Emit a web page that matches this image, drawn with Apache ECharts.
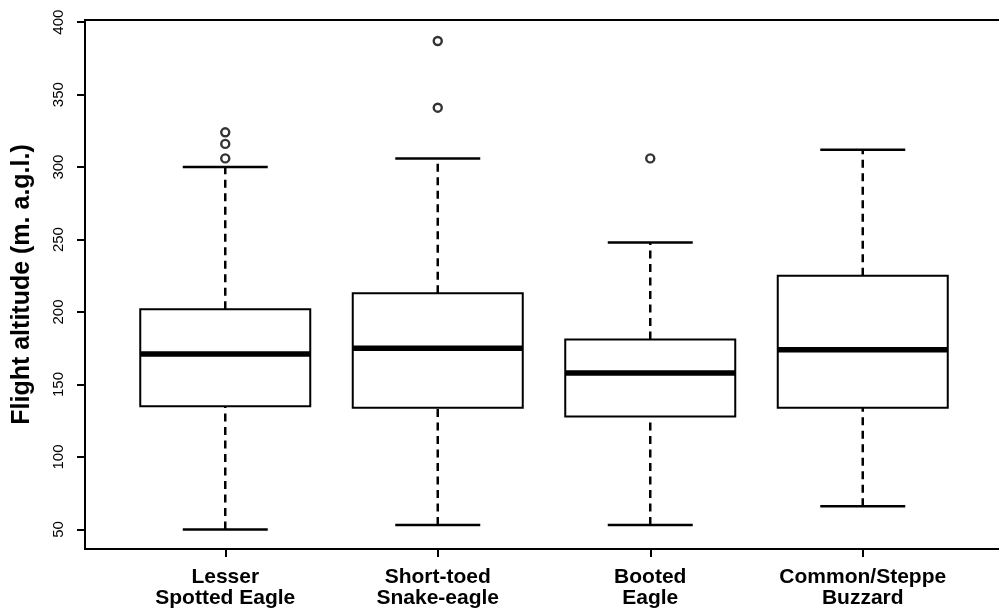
<!DOCTYPE html>
<html>
<head>
<meta charset="utf-8">
<script src="https://cdn.jsdelivr.net/npm/echarts@6/dist/echarts.min.js"></script>
<style>html,body{margin:0;padding:0;background:#fff}#c{width:999px;height:609px}</style>
</head>
<body>
<div id="c"></div>
<script>
const categories = ['Lesser\nSpotted Eagle', 'Short-toed\nSnake-eagle', 'Booted\nEagle', 'Common/Steppe\nBuzzard'];
const positions = [1, 2, 3, 4];
const whiskerLow = [50, 53, 53, 66];
const q1 = [135, 134, 128, 134];
const median = [171, 175, 158, 174];
const q3 = [202, 213, 181, 225];
const whiskerHigh = [300, 306, 248, 312];
const outlierGroup = [1, 1, 1, 2, 2, 3];
const outlierValue = [306, 316, 324, 341, 387, 306];
const yTicks = [50, 100, 150, 200, 250, 300, 350, 400];

const boxData = positions.map((p, i) => [p, whiskerLow[i], q1[i], median[i], q3[i], whiskerHigh[i]]);
const outlierData = outlierGroup.map((g, i) => [g, outlierValue[i]]);

const chart = echarts.init(document.getElementById('c'));
chart.setOption({
  backgroundColor: '#fff',
  animation: false,
  grid: { left: 85, top: 20, width: 918, height: 529, outerBoundsMode: 'none', containLabel: false, show: true, borderColor: '#000', borderWidth: 2, backgroundColor: 'transparent' },
  xAxis: {
    type: 'value', min: 0.34, max: 4.66,
    splitLine: { show: false },
    axisLine: { show: false },
    axisTick: { show: true, customValues: positions, length: 8, lineStyle: { color: '#000', width: 2 } },
    axisLabel: {
      customValues: positions,
      formatter: v => categories[Math.round(v) - 1] || '',
      color: '#000', fontFamily: 'Liberation Sans, Arial', fontWeight: 'bold', fontSize: 21,
      lineHeight: 21, margin: 18
    }
  },
  yAxis: {
    type: 'value', min: 36.5, max: 401.5,
    name: 'Flight altitude (m. a.g.l.)', nameLocation: 'middle', nameRotate: 90, nameGap: 50,
    nameTextStyle: { color: '#000', fontFamily: 'Liberation Sans, Arial', fontWeight: 'bold', fontSize: 25 },
    splitLine: { show: false },
    axisLine: { show: false },
    axisTick: { show: true, customValues: yTicks, length: 8, lineStyle: { color: '#000', width: 2 } },
    axisLabel: { customValues: yTicks, rotate: 90, color: '#000', fontFamily: 'Liberation Sans, Arial', fontSize: 15, margin: 19 }
  },
  series: [
    {
      type: 'custom',
      data: boxData,
      encode: { x: 0, y: [1, 2, 3, 4, 5] },
      renderItem: function (params, api) {
        const x = api.value(0);
        const half = api.size([0.4, 0])[0];
        const capHalf = api.size([0.2, 0])[0];
        const pLow = api.coord([x, api.value(1)]);
        const pQ1 = api.coord([x, api.value(2)]);
        const pMed = api.coord([x, api.value(3)]);
        const pQ3 = api.coord([x, api.value(4)]);
        const pHigh = api.coord([x, api.value(5)]);
        const cx = pMed[0];
        const solid = { stroke: '#000', lineWidth: 2.5, fill: null };
        const dashed = { stroke: '#000', lineWidth: 2.5, lineDash: [8, 5.5], fill: null };
        return {
          type: 'group',
          children: [
            { type: 'line', shape: { x1: cx, y1: pLow[1], x2: cx, y2: pQ1[1] }, style: dashed },
            { type: 'line', shape: { x1: cx, y1: pQ3[1], x2: cx, y2: pHigh[1] }, style: dashed },
            { type: 'line', shape: { x1: cx - capHalf, y1: pLow[1], x2: cx + capHalf, y2: pLow[1] }, style: solid },
            { type: 'line', shape: { x1: cx - capHalf, y1: pHigh[1], x2: cx + capHalf, y2: pHigh[1] }, style: solid },
            { type: 'rect', shape: { x: cx - half, y: pQ3[1], width: 2 * half, height: pQ1[1] - pQ3[1] }, style: { stroke: '#000', lineWidth: 2, fill: '#fff' } },
            { type: 'line', shape: { x1: cx - half, y1: pMed[1], x2: cx + half, y2: pMed[1] }, style: { stroke: '#000', lineWidth: 5.5 } }
          ]
        };
      }
    },
    {
      type: 'scatter',
      data: outlierData,
      symbol: 'circle',
      symbolSize: 8,
      itemStyle: { color: '#fff', borderColor: '#000', borderWidth: 2.4 }
    }
  ]
});
</script>
</body>
</html>
